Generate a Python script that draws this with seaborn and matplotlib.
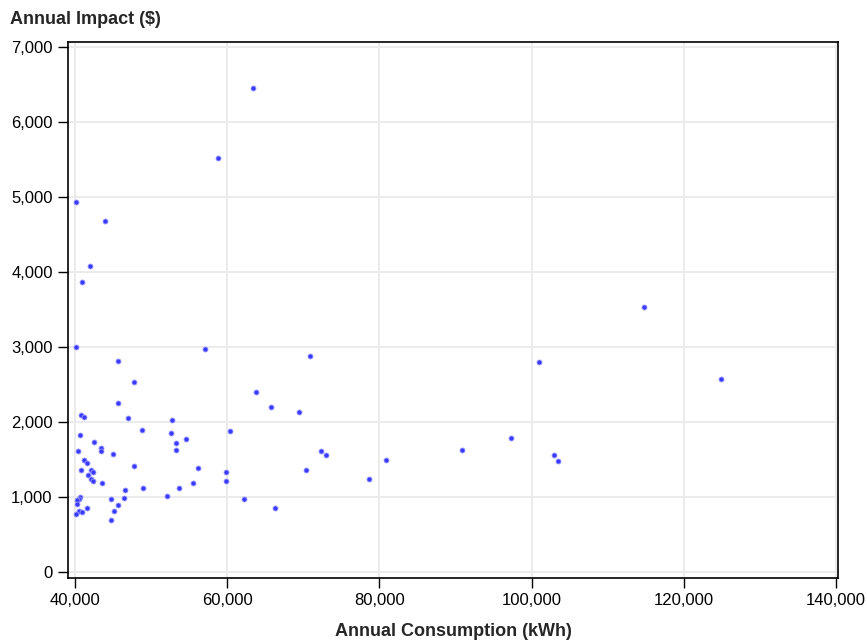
import matplotlib
matplotlib.use("Agg")
import matplotlib.pyplot as plt
import matplotlib.ticker as mticker
import seaborn as sns
import pandas as pd

consumption_kwh = [
    63420, 58740, 40090, 43900, 41880, 40830, 114740, 40090, 57070, 70880,
    45680, 100970, 124870, 47700, 63780, 45680, 65790, 69430, 40790, 41180,
    46950, 52760, 48750, 60360, 52590, 40660, 97330, 54560, 42450, 53290,
    43320, 53290, 90840, 43320, 40300, 72330, 44980, 73030, 102990, 41180,
    80880, 103510, 41530, 47700, 56170, 40790, 42060, 70320, 42270, 59830,
    41700, 78680, 42060, 59830, 42270, 43540, 55480, 48960, 53640, 46600,
    52030, 40660, 46430, 40430, 62200, 44760, 40260, 40220, 45550, 41570,
    66320, 45150, 40490, 40830, 40090, 44630,
]
impact_usd = [
    6460, 5520, 4930, 4680, 4080, 3870, 3530, 3000, 2980, 2880,
    2820, 2800, 2580, 2540, 2400, 2250, 2200, 2140, 2100, 2070,
    2050, 2030, 1900, 1880, 1850, 1830, 1790, 1770, 1740, 1720,
    1650, 1630, 1630, 1610, 1610, 1610, 1570, 1560, 1560, 1500,
    1500, 1480, 1460, 1410, 1390, 1360, 1360, 1360, 1330, 1330,
    1290, 1240, 1240, 1220, 1220, 1190, 1190, 1120, 1120, 1090,
    1020, 1000, 990, 980, 980, 970, 960, 910, 890, 860,
    850, 820, 820, 800, 780, 690,
]
x_ticks = [40000, 60000, 80000, 100000, 120000, 140000]
y_ticks = [0, 1000, 2000, 3000, 4000, 5000, 6000, 7000]

df = pd.DataFrame({"consumption": consumption_kwh, "impact": impact_usd})

sns.set_style("white")
plt.rcParams["font.family"] = ["Liberation Sans", "DejaVu Sans"]

fig = plt.figure(figsize=(8.67, 6.42), dpi=100)
ax = fig.add_axes([68 / 867, 1 - 578 / 642, (838 - 68) / 867, (578 - 42) / 642])

sns.scatterplot(data=df, x="consumption", y="impact", ax=ax,
                color="#3a3aff", edgecolor="#9a9aff", linewidth=0.6, s=13,
                zorder=3)

ax.set_xlim(39040, 140300)
ax.set_ylim(-80, 7067)
ax.set_xticks(x_ticks)
ax.set_yticks(y_ticks)
fmt = mticker.FuncFormatter(lambda v, p: f"{int(v):,}")
ax.xaxis.set_major_formatter(fmt)
ax.yaxis.set_major_formatter(fmt)

ax.grid(True, color="#ebebeb", linewidth=1.4, zorder=0)
ax.set_axisbelow(True)
for sp in ax.spines.values():
    sp.set_color("black")
    sp.set_linewidth(1.2)
    sp.set_visible(True)

ax.tick_params(axis="both", direction="out", length=7.5, width=1,
               color="black", labelsize=12, labelcolor="black", pad=3.5,
               bottom=True, left=True, top=False, right=False)

ax.set_xlabel("Annual Consumption (kWh)", fontsize=13, fontweight="bold",
              labelpad=10.5)
ax.set_ylabel("")
fig.text(10 / 867, 1 - 20 / 642, "Annual Impact ($)", fontsize=13,
         fontweight="bold", ha="left", va="center")

fig.savefig("out.png", dpi=100)
